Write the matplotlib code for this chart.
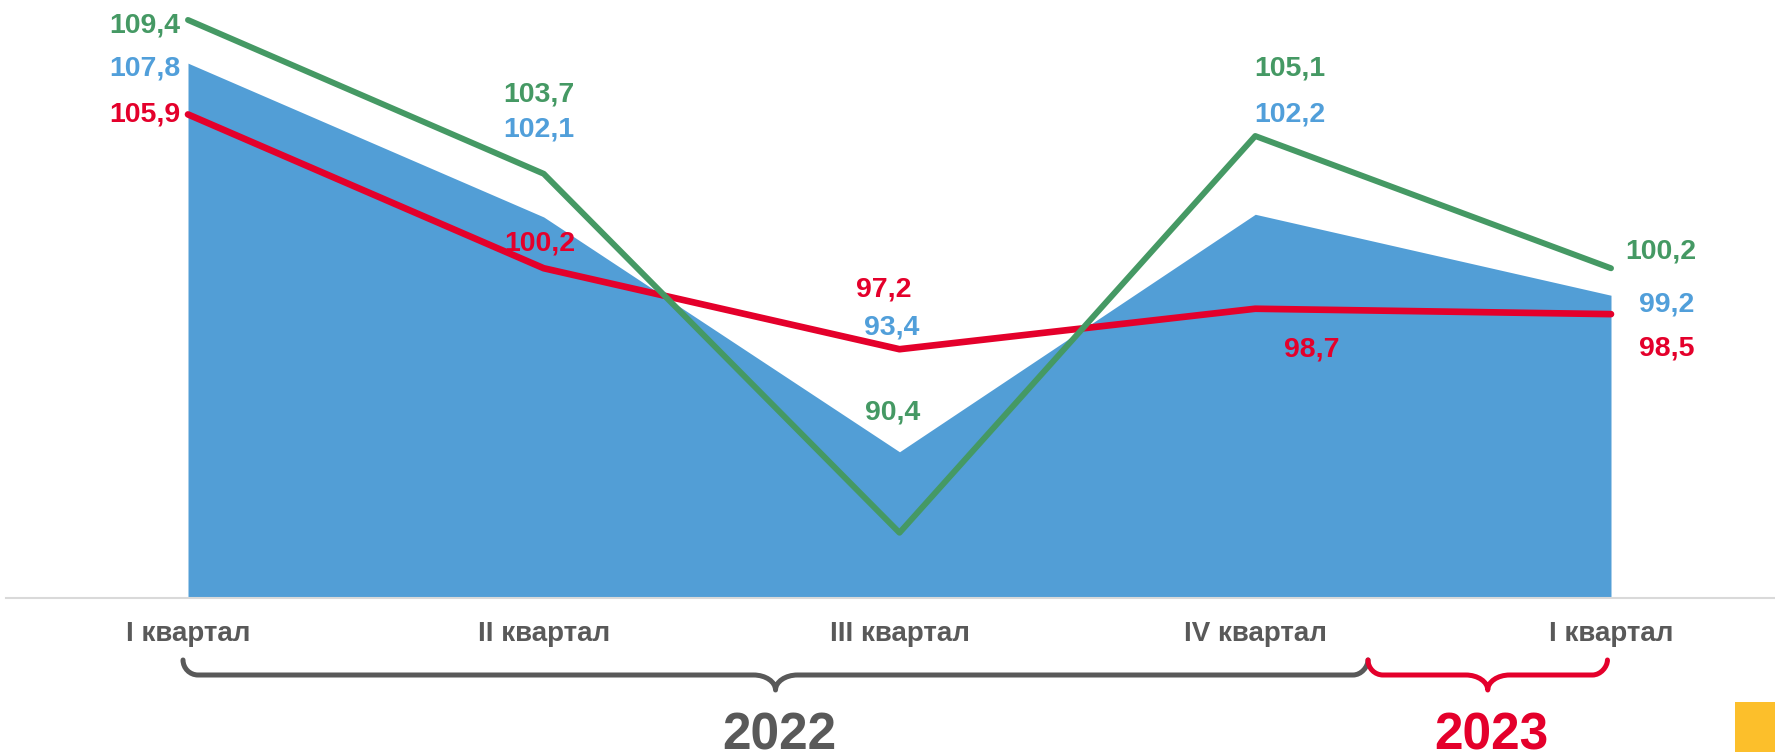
import matplotlib
matplotlib.use('Agg')
import matplotlib.pyplot as plt
from matplotlib.path import Path
from matplotlib.patches import PathPatch, Rectangle
from matplotlib.transforms import blended_transform_factory

# ---------------- data ----------------
quarters = ['I квартал', 'II квартал', 'III квартал', 'IV квартал', 'I квартал']
area_values = [107.8, 102.1, 93.4, 102.2, 99.2]     # blue area
green_values = [109.4, 103.7, 90.4, 105.1, 100.2]   # green line
red_values = [105.9, 100.2, 97.2, 98.7, 98.5]       # red line
years = ['2022', '2023']
year_spans = [(-0.014, 3.317), (3.317, 3.99)]        # category range under each brace

# ---------------- label layout (data coords) ----------------
green_lab = [(-0.022, 109.32, 'right'), (0.987, 106.75, 'center'), (1.982, 94.97, 'center'),
             (3.098, 107.72, 'center'), (4.141, 100.92, 'center')]
blue_lab = [(-0.022, 107.72, 'right'), (0.987, 105.45, 'center'), (1.979, 98.13, 'center'),
            (3.098, 106.01, 'center'), (4.157, 98.98, 'center')]
red_lab = [(-0.022, 106.01, 'right'), (0.989, 101.22, 'center'), (1.956, 99.54, 'center'),
           (3.16, 97.31, 'center'), (4.157, 97.35, 'center')]

BLUE_FILL = '#529ed6'
BLUE_TXT = '#519fda'
GREEN = '#459964'
RED = '#e4002b'
GRAY = '#595959'

plt.rcParams['font.family'] = ['Liberation Sans', 'DejaVu Sans']

W, H = 1775, 752
fig = plt.figure(figsize=(W / 100, H / 100), dpi=100)
base_px = 597.5
ax = fig.add_axes([6 / W, (H - base_px) / H, (W - 6) / W, base_px / H])
ax.set_xlim((6 - 188) / 355.75, (W - 188) / 355.75)
ax.set_ylim(88, 110.14)

x = list(range(len(quarters)))
ax.fill_between(x, 88, area_values, color=BLUE_FILL, linewidth=0, zorder=1)
ax.plot(x, red_values, color=RED, lw=4.8, solid_capstyle='round', solid_joinstyle='round', zorder=3)
ax.plot(x, green_values, color=GREEN, lw=4.3, solid_capstyle='round', solid_joinstyle='round', zorder=4)

def fmt(v):
    return f'{v:.1f}'.replace('.', ',')

for vals, labs, col in [(green_values, green_lab, GREEN), (area_values, blue_lab, BLUE_TXT),
                        (red_values, red_lab, RED)]:
    for v, (lx, ly, ha) in zip(vals, labs):
        ax.text(lx, ly, fmt(v), color=col, fontsize=20.5, fontweight='bold',
                ha=ha, va='center_baseline', zorder=5)

for s in ['top', 'left', 'right']:
    ax.spines[s].set_visible(False)
ax.spines['bottom'].set_color('#d9d9d9')
ax.spines['bottom'].set_linewidth(1.5)
ax.set_yticks([])
ax.set_xticks(x)
ax.set_xticklabels(quarters, fontsize=20, fontweight='bold', color=GRAY)
ax.tick_params(axis='x', length=0, pad=17)

# ---------------- braces ----------------
def data_to_px(xd):
    return ax.transData.transform((xd, 100))[0]

def brace(x0d, x1d, color, yt=660, yh=675, cy=690, r=15, r2=22):
    x0, x1 = data_to_px(x0d), data_to_px(x1d)
    xc = (x0 + x1) / 2
    d = cy - yh
    k = 0.55
    verts = [
        (x0, yt),
        (x0, yt + k * r), (x0 + (1 - k) * r, yh), (x0 + r, yh),
        (xc - r2, yh),
        (xc - r2 + k * r2, yh), (xc, cy - k * d), (xc, cy),
        (xc, cy - k * d), (xc + r2 - k * r2, yh), (xc + r2, yh),
        (x1 - r, yh),
        (x1 - r + k * r, yh), (x1, yh - k * r), (x1, yt),
    ]
    codes = [Path.MOVETO, Path.CURVE4, Path.CURVE4, Path.CURVE4, Path.LINETO,
             Path.CURVE4, Path.CURVE4, Path.CURVE4, Path.CURVE4, Path.CURVE4, Path.CURVE4,
             Path.LINETO, Path.CURVE4, Path.CURVE4, Path.CURVE4]
    verts = [(vx / W, 1 - vy / H) for vx, vy in verts]
    p = PathPatch(Path(verts, codes), fill=False, edgecolor=color, lw=3.6,
                  capstyle='round', joinstyle='round', transform=fig.transFigure)
    fig.add_artist(p)
    return (x0d + x1d) / 2

tr = blended_transform_factory(ax.transData, fig.transFigure)
for (a, b), yr, col in zip(year_spans, years, [GRAY, RED]):
    xc = brace(a, b, col)
    ax.text(xc + 0.01, 1 - 750 / H, yr, transform=tr, color=col, fontsize=37,
            fontweight='bold', ha='center', va='baseline', clip_on=False)

# small yellow page marker
fig.add_artist(Rectangle((1735 / W, 0), 40 / W, 50 / H, transform=fig.transFigure,
                         facecolor='#fcbf2b', edgecolor='none'))

fig.savefig('out.png', dpi=100)
